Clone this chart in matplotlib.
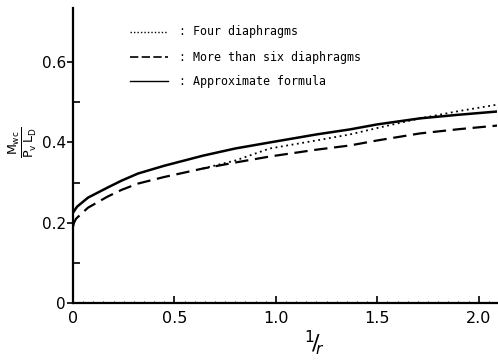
import matplotlib
matplotlib.use("Agg")
import matplotlib.pyplot as plt
from matplotlib.lines import Line2D
from matplotlib.ticker import MultipleLocator, FixedLocator

# Data
x_solid = [0.0, 0.02, 0.074, 0.17, 0.24, 0.32, 0.45, 0.64, 0.8, 0.97, 1.2, 1.365, 1.5, 1.71, 1.9, 2.1]
y_solid = [0.225, 0.24, 0.2625, 0.2875, 0.305, 0.3225, 0.342, 0.367, 0.385, 0.40, 0.42, 0.4325, 0.445, 0.46, 0.469, 0.4775]

x_dashed = [0.0, 0.005, 0.015, 0.074, 0.17, 0.24, 0.32, 0.45, 0.64, 0.8, 0.97, 1.2, 1.365, 1.5, 1.71, 1.9, 2.1]
y_dashed = [0.19, 0.2, 0.21, 0.2375, 0.265, 0.282, 0.2975, 0.314, 0.335, 0.35, 0.365, 0.382, 0.3925, 0.405, 0.4225, 0.433, 0.4425]

x_dotted = [0.64, 0.8, 0.97, 1.2, 1.365, 1.5, 1.71, 1.9, 2.1]
y_dotted = [0.335, 0.355, 0.385, 0.405, 0.42, 0.436, 0.46, 0.478, 0.495]

x_ticks = [0, 0.5, 1.0, 1.5, 2.0]
x_ticklabels = ["0", "0.5", "1.0", "1.5", "2.0"]
y_ticks = [0, 0.2, 0.4, 0.6]
y_ticklabels = ["0", "0.2", "0.4", "0.6"]
y_minor = [0.1, 0.3, 0.5]

legend_labels = [": Four diaphragms", ": More than six diaphragms", ": Approximate formula"]

fig = plt.figure(figsize=(4.98, 3.63), dpi=100)
ax = fig.add_axes([73/498, 1 - 303/363, 1 - 73/498 - 0.002, (303 - 8)/363])

ax.plot(x_solid, y_solid, color="black", lw=1.8, solid_capstyle="butt")
ax.plot(x_dashed, y_dashed, color="black", lw=1.6, dashes=(6, 3))
ax.plot(x_dotted, y_dotted, color="black", lw=1.3, dashes=(1, 2))

ax.set_xlim(0, 2.09)
ax.set_ylim(0, 0.735)

for s in ["top", "right"]:
    ax.spines[s].set_visible(False)
for s in ["left", "bottom"]:
    ax.spines[s].set_linewidth(1.6)
    ax.spines[s].set_color("black")

ax.set_xticks(x_ticks)
ax.set_xticklabels(x_ticklabels)
ax.set_yticks(y_ticks)
ax.set_yticklabels(y_ticklabels)
ax.xaxis.set_minor_locator(MultipleLocator(0.05))
ax.yaxis.set_minor_locator(FixedLocator(y_minor))
ax.tick_params(axis="x", which="major", direction="in", length=5, width=1.2,
               labelsize=11.5, pad=6)
ax.tick_params(axis="x", which="minor", direction="in", length=1.5, width=0.6)
ax.tick_params(axis="y", which="major", direction="out", length=4, width=1.2,
               labelsize=11, pad=1)
ax.tick_params(axis="y", which="minor", direction="in", length=5, width=1.2)

# y label (fraction)
fig.text(23/498, 1 - 142/363, r"$\frac{\mathrm{M_{wc}}}{\mathrm{P_v\,L_D}}$", rotation=90,
         ha="center", va="center", fontsize=13)
# x label
fig.text(314/498, 1 - 343/363, r"$^{1}\!/\!_{r}$", ha="center", va="center",
         fontsize=16)

# legend drawn manually
leg_y = [32, 57, 81]
styles = [dict(dashes=(1, 1.5), lw=1.0), dict(dashes=(5, 2), lw=1.2), dict(lw=1.0)]
for yy, st, lab in zip(leg_y, styles, legend_labels):
    yf = 1 - yy/363
    fig.add_artist(Line2D([130/498, 168/498], [yf, yf], color="black", **st))
    fig.text(179/498, yf, lab, ha="left", va="center", fontsize=8.4,
             family="DejaVu Sans Mono")

fig.savefig("out.png", dpi=100)
